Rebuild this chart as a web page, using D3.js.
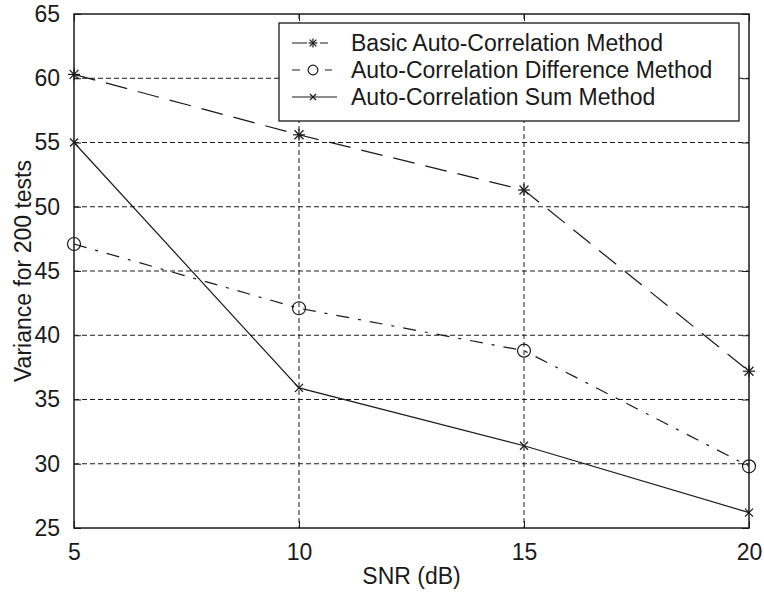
<!DOCTYPE html>
<html>
<head>
<meta charset="utf-8">
<script src="https://cdn.jsdelivr.net/npm/d3@7"></script>
<style>
  html, body { margin: 0; padding: 0; background: #fff; }
  svg { display: block; font-family: "Liberation Sans", Arial, sans-serif; }
</style>
</head>
<body>
<svg id="chart" width="764" height="596"></svg>
<script>
// SNR levels (dB) on the x axis
const snr = [5, 10, 15, 20];
// Variance over 200 tests for each method
const basicAC = [60.3, 55.6, 51.3, 37.2];
const diffAC  = [47.1, 42.1, 38.8, 29.8];
const sumAC   = [55.0, 35.9, 31.4, 26.2];
// Axis ticks
const xTicks = [5, 10, 15, 20];
const yTicks = [25, 30, 35, 40, 45, 50, 55, 60, 65];
const seriesNames = [
  "Basic Auto-Correlation Method",
  "Auto-Correlation Difference Method",
  "Auto-Correlation Sum Method"
];

const margin = { left: 74, top: 14, right: 15, bottom: 68 };
const W = 764, H = 596;
const iw = W - margin.left - margin.right;
const ih = H - margin.top - margin.bottom;

const svg = d3.select("#chart");
const g = svg.append("g").attr("transform", `translate(${margin.left},${margin.top})`);

const x = d3.scaleLinear().domain([5, 20]).range([0, iw]);
const y = d3.scaleLinear().domain([25, 65]).range([ih, 0]);

const ink = "#1a1a1a";

// dashed grid
g.append("g").selectAll("line").data(xTicks.slice(1, -1)).join("line")
  .attr("x1", d => x(d)).attr("x2", d => x(d)).attr("y1", 0).attr("y2", ih)
  .attr("stroke", ink).attr("stroke-width", 1).attr("stroke-dasharray", "5,3");
g.append("g").selectAll("line").data(yTicks.slice(1, -1)).join("line")
  .attr("y1", d => y(d)).attr("y2", d => y(d)).attr("x1", 0).attr("x2", iw)
  .attr("stroke", ink).attr("stroke-width", 1).attr("stroke-dasharray", "5,3");

// axes with inward ticks, labels outside
const tickLen = 7;
g.append("g").attr("transform", `translate(0,${ih})`)
  .call(d3.axisBottom(x).tickValues(xTicks).tickSizeInner(-tickLen).tickSizeOuter(0).tickPadding(16));
g.append("g")
  .call(d3.axisLeft(y).tickValues(yTicks).tickSizeInner(-tickLen).tickSizeOuter(0).tickPadding(14));
g.append("g")
  .call(d3.axisTop(x).tickValues(xTicks).tickSizeInner(-tickLen).tickSizeOuter(0).tickFormat(""));
g.append("g").attr("transform", `translate(${iw},0)`)
  .call(d3.axisRight(y).tickValues(yTicks).tickSizeInner(-tickLen).tickSizeOuter(0).tickFormat(""));
g.selectAll(".domain").remove();
g.selectAll(".tick line").attr("stroke", ink).attr("stroke-width", 1);
g.selectAll(".tick text").attr("font-size", 23).attr("fill", ink)
  .attr("font-family", "'Liberation Sans', Arial, sans-serif");

// frame
g.append("rect").attr("x", 0).attr("y", 0).attr("width", iw).attr("height", ih)
  .attr("fill", "none").attr("stroke", ink).attr("stroke-width", 1.5);

// series
const series = [
  { name: seriesNames[0], vals: basicAC, dash: "22,11", marker: "star",
    legendDash: "15,13,8,40" },
  { name: seriesNames[1], vals: diffAC,  dash: "13,9,3,9", marker: "circle",
    legendDash: "8,25,7,40" },
  { name: seriesNames[2], vals: sumAC,   dash: null, marker: "cross",
    legendDash: null }
];

function drawMarker(sel, type, cx, cy, k = 1) {
  const m = sel.append("g").attr("transform", `translate(${cx},${cy}) scale(${k})`)
    .attr("stroke", ink).attr("fill", "none").attr("stroke-width", 1.2 / k);
  if (type === "circle") {
    m.append("circle").attr("r", 6.5);
  } else if (type === "star") {
    const s = 6;
    m.append("line").attr("x1", -s).attr("x2", s).attr("y1", 0).attr("y2", 0);
    m.append("line").attr("x1", 0).attr("x2", 0).attr("y1", -s).attr("y2", s);
    m.append("line").attr("x1", -4.5).attr("x2", 4.5).attr("y1", -4.5).attr("y2", 4.5);
    m.append("line").attr("x1", -4.5).attr("x2", 4.5).attr("y1", 4.5).attr("y2", -4.5);
  } else {
    const s = 4;
    m.append("line").attr("x1", -s).attr("x2", s).attr("y1", -s).attr("y2", s);
    m.append("line").attr("x1", -s).attr("x2", s).attr("y1", s).attr("y2", -s);
  }
}

const line = d3.line().x(d => x(d[0])).y(d => y(d[1]));
series.forEach(s => {
  const pts = snr.map((v, i) => [v, s.vals[i]]);
  g.append("path").datum(pts).attr("d", line)
    .attr("fill", "none").attr("stroke", ink).attr("stroke-width", 1.2)
    .attr("stroke-dasharray", s.dash);
  pts.forEach(p => drawMarker(g, s.marker, x(p[0]), y(p[1])));
});

// legend
const lg = svg.append("g").attr("transform", "translate(279,23)");
lg.append("rect").attr("width", 460).attr("height", 98)
  .attr("fill", "#fff").attr("stroke", ink).attr("stroke-width", 1.3);
series.forEach((s, i) => {
  const cy = 20 + i * 27;
  lg.append("line").attr("x1", 13).attr("x2", 58).attr("y1", cy).attr("y2", cy)
    .attr("stroke", ink).attr("stroke-width", 1.2)
    .attr("stroke-dasharray", s.legendDash);
  drawMarker(lg, s.marker, 34, cy, 0.75);
  lg.append("text").attr("x", 72).attr("y", cy + 8)
    .attr("font-size", 23).attr("fill", ink).text(s.name);
});

// axis titles
svg.append("text").attr("x", margin.left + iw / 2).attr("y", 584)
  .attr("text-anchor", "middle").attr("font-size", 23).attr("fill", ink).text("SNR (dB)");
svg.append("text").attr("transform", `translate(31,${margin.top + ih / 2}) rotate(-90)`)
  .attr("text-anchor", "middle").attr("font-size", 23).attr("fill", ink).text("Variance for 200 tests");
</script>
</body>
</html>
